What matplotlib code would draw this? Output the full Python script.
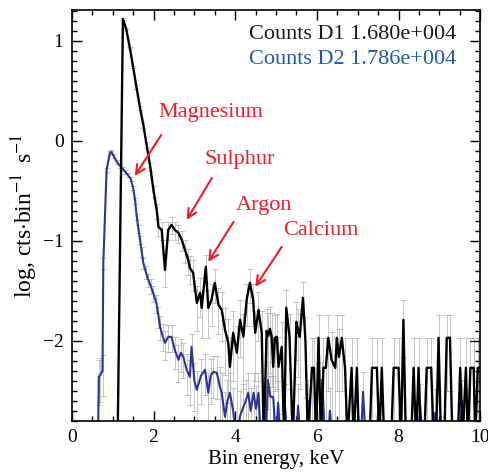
import numpy as np
import matplotlib

matplotlib.use("Agg")
import matplotlib.pyplot as plt
from matplotlib.ticker import MultipleLocator

# values (log10 of cts/bin/s); -3 means an empty bin
e_d1 = [0.00, 1.12, 1.25, 1.33, 1.42, 1.50, 1.58, 1.67, 1.75, 1.83, 1.92, 2.00,
        2.08, 2.12, 2.20, 2.28, 2.36, 2.44, 2.52, 2.61, 2.69, 2.77, 2.85, 2.89,
        2.97, 3.06, 3.14, 3.18, 3.28, 3.34, 3.42, 3.50, 3.59, 3.67, 3.75, 3.83,
        3.87, 3.95, 4.04, 4.12, 4.20, 4.28, 4.36, 4.44, 4.49, 4.57, 4.65, 4.70,
        4.77, 4.81, 4.85, 4.89, 4.93, 4.97, 5.02, 5.06, 5.14, 5.20, 5.25, 5.33,
        5.41, 5.50, 5.54, 5.58, 5.66, 5.72, 5.78, 5.88, 5.93, 5.98, 6.04, 6.10,
        6.16, 6.22, 6.28, 6.36, 6.45, 6.49, 6.54, 6.61, 6.69, 6.75, 6.85, 6.90,
        6.98, 7.03, 7.29, 7.35, 7.47, 7.53, 7.59, 7.65, 7.82, 7.88, 8.00, 8.06,
        8.12, 8.18, 8.31, 8.37, 8.43, 8.49, 8.55, 8.63, 8.69, 8.80, 8.86, 8.92,
        8.98, 9.04, 9.12, 9.18, 9.26, 9.32, 9.45, 9.51, 9.57, 9.65, 9.70, 9.76,
        9.84, 9.88, 9.94, 10.0]
log_d1 = [-3.0, -3.0, 1.22, 1.12, 0.93, 0.74, 0.54, 0.33, 0.16, -0.04, -0.26, -0.50,
          -0.70, -0.86, -0.89, -1.29, -0.89, -0.84, -0.89, -0.92, -0.99, -1.09, -1.19, -1.27,
          -1.32, -1.62, -1.52, -1.67, -1.26, -1.67, -1.59, -1.42, -1.64, -1.69, -1.89, -2.02,
          -2.26, -1.92, -2.12, -1.79, -1.96, -1.59, -1.42, -1.59, -1.92, -1.69, -1.92, -3.0,
          -1.90, -1.95, -1.88, -1.95, -2.26, -1.97, -1.96, -2.26, -2.06, -3.0, -1.67, -1.96,
          -3.0, -1.81, -1.90, -1.96, -1.57, -2.00, -3.0, -2.27, -2.27, -3.0, -1.97, -3.0,
          -2.27, -2.27, -1.97, -2.19, -2.27, -1.97, -2.16, -1.97, -2.27, -3.0, -2.27, -3.0,
          -2.27, -3.0, -3.0, -2.27, -2.27, -3.0, -2.27, -3.0, -3.0, -2.27, -2.27, -3.0,
          -1.79, -3.0, -3.0, -2.27, -3.0, -2.27, -3.0, -3.0, -2.27, -2.27, -3.0, -3.0,
          -1.97, -3.0, -3.0, -1.97, -1.97, -3.0, -3.0, -2.27, -3.0, -2.27, -3.0, -2.27,
          -2.27, -3.0, -2.27, -2.27]

e_d2 = [0.00, 0.64, 0.66, 0.70, 0.75, 0.77, 0.85, 0.93, 0.97, 1.02, 1.10, 1.18,
        1.25, 1.31, 1.37, 1.44, 1.50, 1.55, 1.59, 1.63, 1.67, 1.71, 1.75, 1.81,
        1.87, 1.93, 1.99, 2.07, 2.12, 2.16, 2.22, 2.28, 2.36, 2.44, 2.52, 2.61,
        2.67, 2.73, 2.81, 2.89, 2.93, 3.00, 3.06, 3.16, 3.26, 3.34, 3.40, 3.46,
        3.55, 3.62, 3.67, 3.75, 3.81, 3.87, 3.95, 4.03, 4.12, 4.20, 4.26, 4.32,
        4.38, 4.45, 4.51, 4.57, 4.63, 4.75, 4.80, 4.86, 4.93, 5.00, 5.05, 5.12,
        5.17, 5.22, 5.28, 5.49, 5.54, 5.60, 5.74, 5.79, 5.85, 6.08, 6.13, 6.20,
        6.27, 6.32, 6.38, 7.08, 7.13, 7.20, 7.45, 7.50, 7.56, 8.48, 8.53, 8.59,
        8.85, 8.90, 8.96, 9.51, 9.56, 9.62, 9.66, 9.70, 9.76, 10.0]
log_d2 = [-3.0, -3.0, -2.36, -2.34, -2.30, -1.22, -0.29, -0.12, -0.11, -0.15, -0.21, -0.25,
          -0.28, -0.31, -0.34, -0.38, -0.47, -0.60, -0.76, -0.88, -0.99, -1.11, -1.22, -1.31,
          -1.39, -1.45, -1.52, -1.62, -1.75, -1.86, -1.95, -2.02, -1.96, -1.96, -2.09, -2.19,
          -2.12, -2.16, -2.29, -2.36, -2.06, -2.40, -2.49, -2.35, -2.29, -2.52, -2.35, -2.31,
          -2.32, -2.45, -2.52, -2.76, -2.60, -2.52, -2.70, -3.0, -2.75, -2.66, -2.60, -2.52,
          -2.70, -2.52, -2.68, -2.52, -3.0, -3.0, -2.39, -2.56, -2.56, -3.0, -2.62, -3.0,
          -3.0, -2.65, -3.0, -3.0, -2.65, -3.0, -3.0, -2.60, -3.0, -3.0, -2.39, -3.0,
          -3.0, -2.70, -3.0, -3.0, -2.51, -3.0, -3.0, -2.72, -3.0, -3.0, -2.65, -3.0,
          -3.0, -2.72, -3.0, -3.0, -2.60, -3.0, -3.0, -2.72, -3.0, -3.0]

total_d1 = "1.680e+004"
total_d2 = "1.786e+004"

# (label, text position, arrow tail, arrow head) in data units
lines_marked = [
    ("Magnesium", (2.11, 0.28), (2.19, 0.06), (1.54, -0.35)),
    ("Sulphur", (3.26, -0.19), (3.43, -0.37), (2.81, -0.79)),
    ("Argon", (4.02, -0.65), (3.96, -0.81), (3.34, -1.21)),
    ("Calcium", (5.17, -0.90), (5.14, -1.06), (4.49, -1.46)),
]

# rate of a single count in one bin (per detector), for Poisson error bars
one_count_d1 = 10 ** -2.27
one_count_d2 = 10 ** -3.0


def poisson_errors(logv, one_count):
    """Lower/upper error (in log units) of each bin from its count."""
    logv = np.asarray(logv)
    n = 10 ** logv / one_count
    rel = 1 / np.sqrt(np.maximum(n, 1e-9))
    up = np.log10(1 + rel)
    lo_val = np.where(rel < 0.999, logv + np.log10(np.clip(1 - rel, 1e-3, None)), -3.0)
    lo = logv - lo_val
    empty = logv <= -2.99
    up[empty] = 0
    lo[empty] = 0
    return lo, up


plt.rcParams["font.family"] = ["Liberation Serif", "DejaVu Serif"]
plt.rcParams["mathtext.fontset"] = "stix"

fig = plt.figure(figsize=(4.89, 4.76), dpi=100)
ax = fig.add_axes([0.147, 0.116, 0.835, 0.863])

for e, v, c1 in ((e_d1, log_d1, one_count_d1), (e_d2, log_d2, one_count_d2)):
    lo, up = poisson_errors(v, c1)
    ax.errorbar(e, v, yerr=[lo, up], fmt="none", ecolor="#a0a0a0",
                elinewidth=0.6, capsize=2, capthick=0.6, alpha=0.7, zorder=1)

ax.plot(e_d2, log_d2, color="#2b3592", lw=1.5, zorder=2)
ax.plot(e_d1, log_d1, color="black", lw=1.7, zorder=3)

ax.text(9.41, 1.06, f"Counts D1 {total_d1}", ha="right", va="center",
        fontsize=16, color="#1a1a1a")
ax.text(9.41, 0.81, f"Counts D2 {total_d2}", ha="right", va="center",
        fontsize=16, color="#1a5aa8")

red = "#e8202a"
for name, xy_text, xy_tail, xy_head in lines_marked:
    ax.text(*xy_text, name, fontsize=16, color=red, ha="left", va="center")
    ax.annotate("", xy=xy_head, xytext=xy_tail,
                arrowprops=dict(arrowstyle="->", color=red, lw=1.5,
                                shrinkA=0, shrinkB=0, mutation_scale=16))

ax.set_xlim(0, 10)
ax.set_ylim(-2.80, 1.31)
ax.xaxis.set_major_locator(MultipleLocator(2))
ax.xaxis.set_minor_locator(MultipleLocator(0.5))
ax.yaxis.set_major_locator(MultipleLocator(1))
ax.yaxis.set_minor_locator(MultipleLocator(0.1))
ax.tick_params(which="both", direction="in", top=True, right=True,
               labelsize=14, width=1.0)
ax.tick_params(which="major", length=7, pad=6)
ax.tick_params(which="minor", length=3.5)
for s in ax.spines.values():
    s.set_linewidth(1.2)

ax.set_xlabel("Bin energy, keV", fontsize=15, labelpad=3)
ax.set_ylabel("log, cts$\\cdot$bin$^{-1}$ $\\,$s$^{-1}$", fontsize=17, labelpad=2)

fig.savefig("out.png", dpi=100)
